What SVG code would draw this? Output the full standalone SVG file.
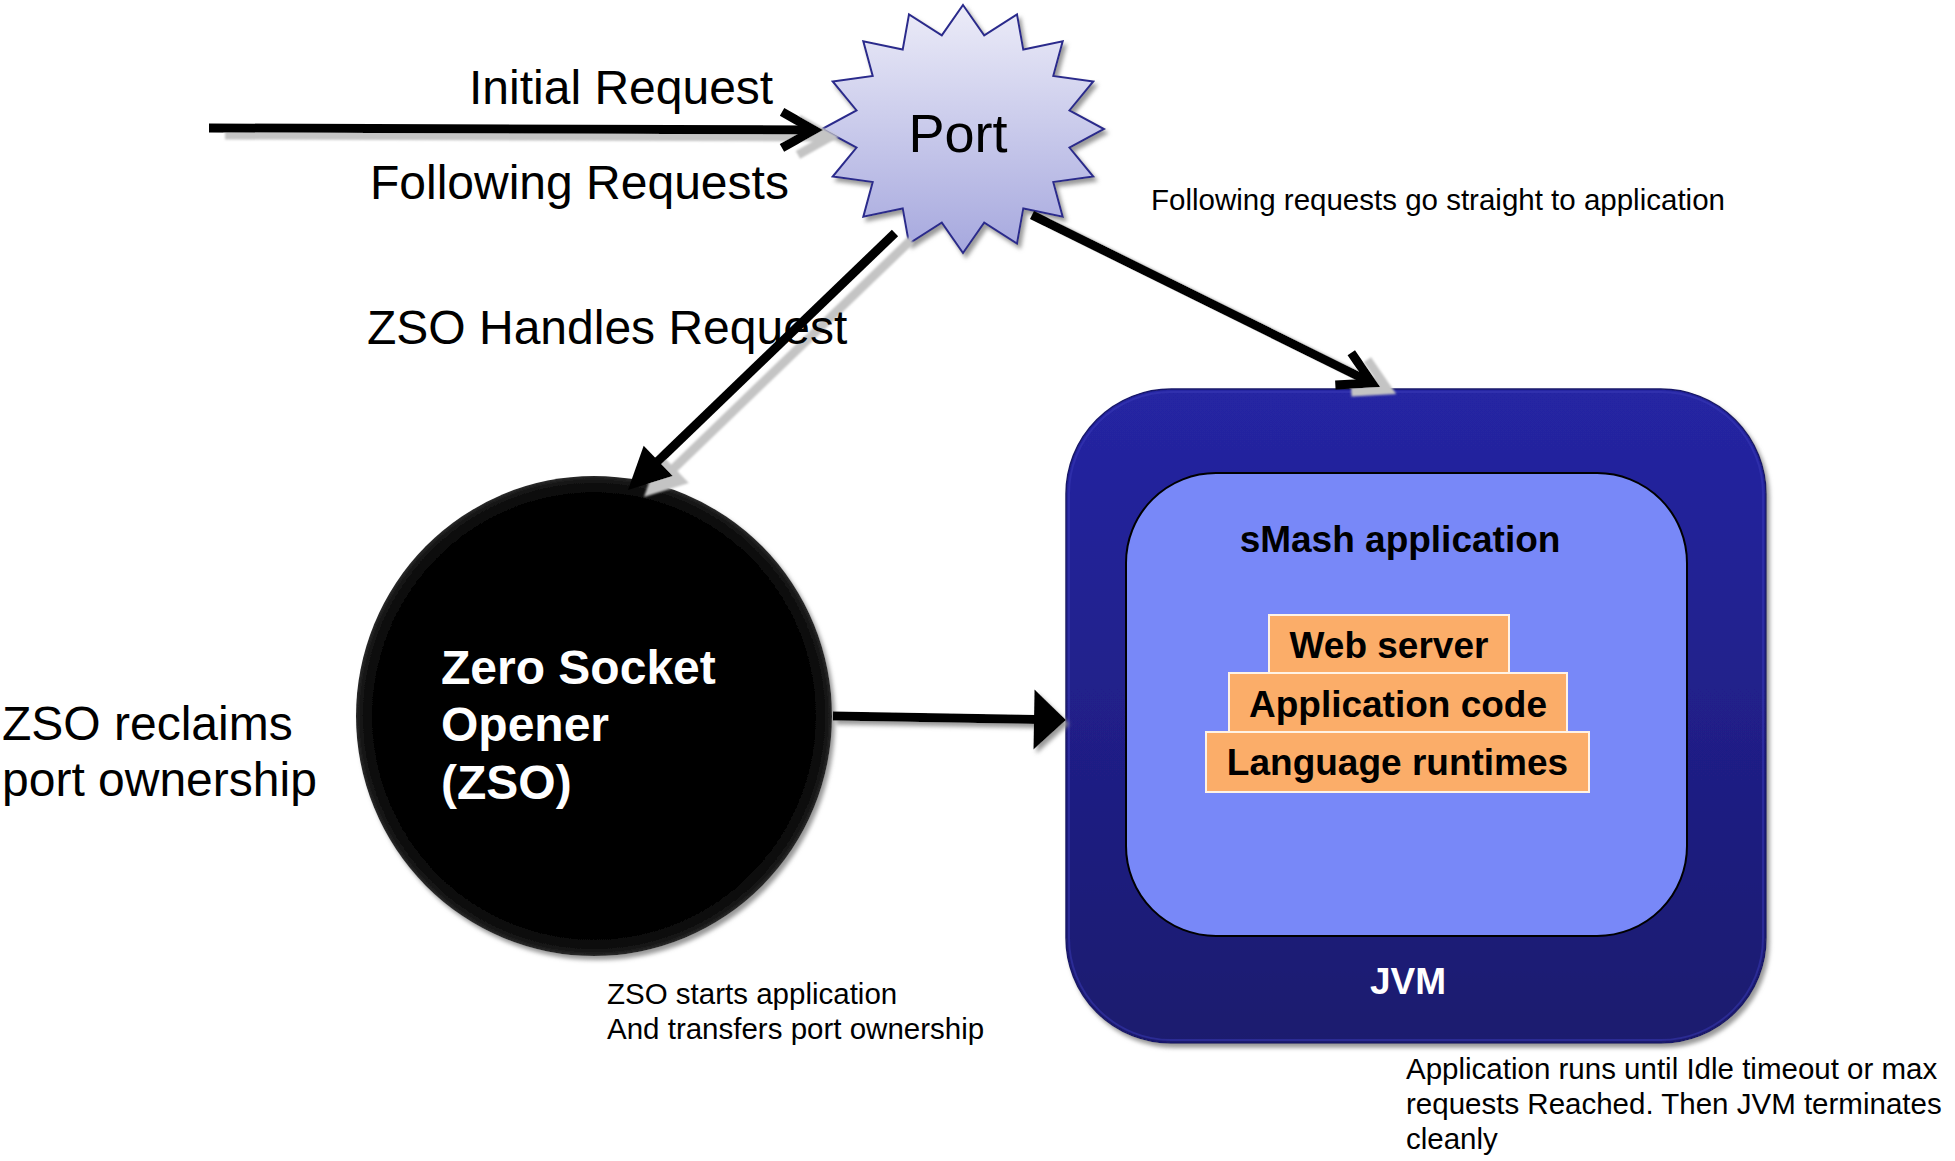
<svg xmlns="http://www.w3.org/2000/svg" width="1955" height="1161" viewBox="0 0 1955 1161">
  <style>
    .lbl { font-family: "Liberation Sans", Arial, sans-serif; fill: #000; }
    .big { font-size: 48px; }
    .small { font-size: 29.5px; }
    .bold { font-weight: bold; }
    .white { fill: #fff; }
    .conn { stroke: #000; stroke-width: 9; fill: none; stroke-linecap: butt; }
    .layer { fill: #fbad69; stroke: #fff3e6; stroke-width: 2; }
  </style>
  <defs>
    <linearGradient id="starGrad" x1="0" y1="0" x2="0" y2="1">
      <stop offset="0" stop-color="#ececf8"/>
      <stop offset="1" stop-color="#a6a8de"/>
    </linearGradient>
    <linearGradient id="jvmGrad" x1="0" y1="0" x2="0" y2="1">
      <stop offset="0" stop-color="#2525a3"/>
      <stop offset="1" stop-color="#1b1a6e"/>
    </linearGradient>
    <radialGradient id="zsoGrad" cx="0.5" cy="0.5" r="0.5">
      <stop offset="0" stop-color="#000"/>
      <stop offset="0.92" stop-color="#030303"/>
      <stop offset="0.98" stop-color="#141414"/>
      <stop offset="1" stop-color="#2a2a2a"/>
    </radialGradient>
    <filter id="lineShadow" filterUnits="userSpaceOnUse" x="0" y="0" width="1955" height="1161">
      <feFlood flood-color="#c4c4c4"/>
      <feComposite in2="SourceAlpha" operator="in"/>
      <feOffset dx="16" dy="7"/>
      <feGaussianBlur stdDeviation="1"/>
      <feMerge><feMergeNode/><feMergeNode in="SourceGraphic"/></feMerge>
    </filter>
    <filter id="smallShadow" filterUnits="userSpaceOnUse" x="0" y="0" width="1955" height="1161">
      <feFlood flood-color="#9a9a9a"/>
      <feComposite in2="SourceAlpha" operator="in"/>
      <feOffset dx="3" dy="4"/>
      <feGaussianBlur stdDeviation="2"/>
      <feMerge><feMergeNode/><feMergeNode in="SourceGraphic"/></feMerge>
    </filter>
    <marker id="chevron" markerUnits="userSpaceOnUse" markerWidth="80" markerHeight="80" viewBox="-50 -40 80 80" refX="0" refY="0" orient="auto">
      <path d="M-32,-18 L0,0 L-32,18" fill="none" stroke="#000" stroke-width="9"/>
    </marker>
    <marker id="headA" markerUnits="userSpaceOnUse" markerWidth="80" markerHeight="80" viewBox="-10 -40 80 80" refX="2" refY="0" orient="auto">
      <path d="M0,-21 L42,0 L0,21 z" fill="#000"/>
    </marker>
    <marker id="headB" markerUnits="userSpaceOnUse" markerWidth="80" markerHeight="80" viewBox="-10 -40 80 80" refX="2" refY="0" orient="auto">
      <path d="M0,-30 L32,0 L0,30 z" fill="#000"/>
    </marker>
  </defs>

  <rect width="1955" height="1161" fill="#fff"/>

  <!-- JVM container -->
  <g id="jvm">
    <rect x="1066" y="389" width="700" height="654" rx="105" ry="105" fill="url(#jvmGrad)" stroke="#19196a" stroke-width="1.5" filter="url(#smallShadow)"/>
    <rect x="1069" y="392" width="694" height="648" rx="102" ry="102" fill="none" stroke="#3a3ab8" stroke-width="2" opacity="0.5"/>
    <text class="lbl bold white" x="1408" y="994" font-size="37" text-anchor="middle">JVM</text>
  </g>

  <g id="smash-app">
    <rect x="1126" y="473" width="561" height="463" rx="90" ry="90" fill="#7888f8" stroke="#000" stroke-width="2"/>
    <text class="lbl bold" x="1400" y="552" font-size="37" text-anchor="middle">sMash application</text>
  </g>

  <g id="web-server">
    <rect class="layer" x="1269" y="615" width="240" height="58"/>
    <text class="lbl bold" x="1389" y="658" font-size="37" text-anchor="middle">Web server</text>
  </g>
  <g id="application-code">
    <rect class="layer" x="1229" y="673" width="338" height="59"/>
    <text class="lbl bold" x="1398" y="717" font-size="37" text-anchor="middle">Application code</text>
  </g>
  <g id="language-runtimes">
    <rect class="layer" x="1206" y="732" width="383" height="60"/>
    <text class="lbl bold" x="1397.5" y="775" font-size="37" text-anchor="middle">Language runtimes</text>
  </g>

  <!-- ZSO -->
  <g id="zso">
    <ellipse cx="594" cy="716" rx="238" ry="240" fill="url(#zsoGrad)" filter="url(#smallShadow)"/>
    <text class="lbl big bold white" x="441" y="684">Zero Socket</text>
    <text class="lbl big bold white" x="441" y="741">Opener</text>
    <text class="lbl big bold white" x="441" y="799">(ZSO)</text>
  </g>

  <!-- Port -->
  <g id="port">
    <polygon points="963,5 984.2,35.3 1017,14.4 1023.3,49.6 1062.7,41.3 1053.3,75.9 1093.3,81.5 1069.5,110.4 1104,129 1069.5,147.6 1093.3,176.5 1053.3,182.1 1062.7,216.7 1023.3,208.4 1017,243.6 984.2,222.7 963,253 941.8,222.7 909,243.6 902.7,208.4 863.3,216.7 872.7,182.1 832.7,176.5 856.5,147.6 822,129 856.5,110.4 832.7,81.5 872.7,75.9 863.3,41.3 902.7,49.6 909,14.4 941.8,35.3" fill="url(#starGrad)" stroke="#2b2b8c" stroke-width="2" filter="url(#smallShadow)"/>
    <text class="lbl" x="958" y="152" font-size="54" text-anchor="middle">Port</text>
  </g>

  <!-- Connectors -->
  <g id="connectors">
    <path class="conn" d="M209,128 L814,130" marker-end="url(#chevron)" filter="url(#lineShadow)"/>
    <path class="conn" d="M895,233 L656.8,462.3" marker-end="url(#headA)" filter="url(#lineShadow)"/>
    <path class="conn" d="M1032,215 L1372,383" marker-end="url(#chevron)" filter="url(#lineShadow)"/>
    <path class="conn" d="M833,716 L1036,719.5" marker-end="url(#headB)" filter="url(#smallShadow)"/>
  </g>

  <!-- Free labels -->
  <g id="labels">
    <text class="lbl big" x="469" y="104">Initial Request</text>
    <text class="lbl big" x="370" y="199">Following Requests</text>
    <text class="lbl big" x="367" y="344">ZSO Handles Request</text>
    <text class="lbl big" x="2" y="740">ZSO reclaims</text>
    <text class="lbl big" x="2" y="796">port ownership</text>
    <text class="lbl small" x="1151" y="210">Following requests go straight to application</text>
    <text class="lbl small" x="607" y="1004">ZSO starts application</text>
    <text class="lbl small" x="607" y="1039">And transfers port ownership</text>
    <text class="lbl small" x="1406" y="1079">Application runs until Idle timeout or max</text>
    <text class="lbl small" x="1406" y="1114">requests Reached. Then JVM terminates</text>
    <text class="lbl small" x="1406" y="1149">cleanly</text>
  </g>
</svg>
